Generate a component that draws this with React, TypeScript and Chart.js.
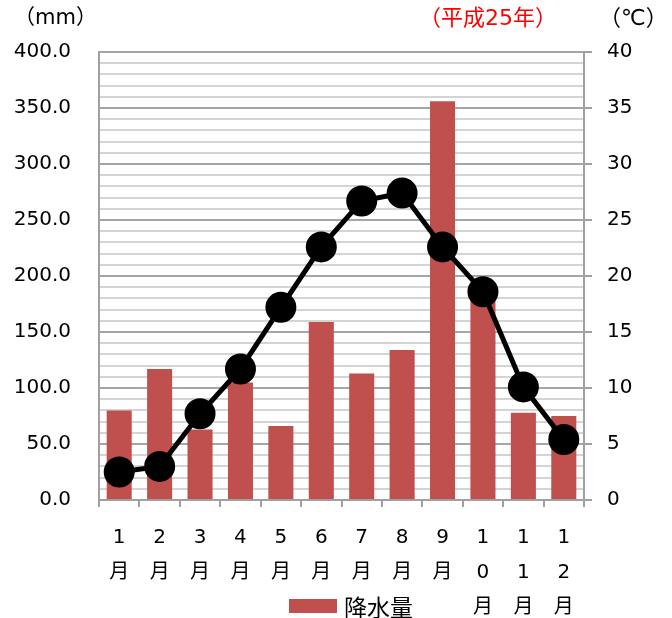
import React, { useEffect, useRef } from "react";
import { Chart, registerables } from "chart.js";

Chart.register(...registerables);

const months = ["1月", "2月", "3月", "4月", "5月", "6月", "7月", "8月", "9月", "10月", "11月", "12月"];
const precipitation = [80, 117, 63, 105, 66, 159, 113, 134, 356, 186, 78, 75];
const temperature = [2.5, 3.0, 7.7, 11.7, 17.2, 22.6, 26.7, 27.4, 22.6, 18.6, 10.1, 5.4];
const leftUnit = "（mm）";
const rightUnit = "（℃）";
const yearLabel = "（平成25年）";
const barLabel = "降水量";
const lineLabel = "気温";

const FONT = "'DejaVu Sans', 'Noto Sans CJK JP', sans-serif";
const CJK = "'Noto Sans CJK JP', sans-serif";
const BAR_COLOR = "#C0504D";
const AXIS_GRAY = "#a0a0a0";

const overlay = {
  id: "overlay",
  afterDraw(chart: any) {
    const ctx = chart.ctx;
    ctx.save();
    ctx.textBaseline = "middle";
    ctx.fillStyle = "#000";
    ctx.font = `21px ${FONT}`;
    ctx.textAlign = "left";
    ctx.fillText(leftUnit, 14, 19);
    ctx.font = `22px ${FONT}`;
    ctx.fillText(rightUnit, 599, 19);
    ctx.fillStyle = "#FF0000";
    ctx.fillText(yearLabel, 419, 19);
    // legend
    const ds = chart.data.datasets[1];
    ctx.fillStyle = ds.backgroundColor;
    ctx.fillRect(289, 599, 48, 14);
    ctx.fillStyle = "#000";
    ctx.font = `23px ${CJK}`;
    ctx.fillText(ds.label, 344, 607);
    ctx.restore();
  },
};

export default function App() {
  const ref = useRef<HTMLCanvasElement | null>(null);
  useEffect(() => {
    if (!ref.current) return;
    const chart = new Chart(ref.current, {
      type: "bar",
      data: {
        labels: months.map((m) => m.split("")),
        datasets: [
          {
            type: "line",
            label: lineLabel,
            data: temperature,
            yAxisID: "y1",
            borderColor: "#000",
            backgroundColor: "#000",
            borderWidth: 5,
            pointRadius: 13,
            pointBackgroundColor: "#000",
            pointBorderColor: "#000",
            tension: 0,
            order: 0,
          } as any,
          {
            type: "bar",
            label: barLabel,
            data: precipitation,
            yAxisID: "y",
            backgroundColor: BAR_COLOR,
            categoryPercentage: 1,
            barPercentage: 0.62,
            order: 1,
          },
        ],
      },
      options: {
        responsive: false,
        animation: false,
        layout: { padding: { top: 52, left: 0, right: 0, bottom: 0 } },
        plugins: { legend: { display: false }, tooltip: { enabled: false } },
        scales: {
          x: {
            ticks: {
              font: { size: 20, family: FONT, lineHeight: 1.75 },
              color: "#000",
              padding: 13,
              maxRotation: 0,
              autoSkip: false,
            },
            grid: { drawOnChartArea: false, tickLength: 7, color: AXIS_GRAY, lineWidth: 2, offset: true },
            border: { color: AXIS_GRAY, width: 2 },
            afterFit: (s: any) => {
              s.height = 118;
            },
          },
          y: {
            position: "left",
            min: 0,
            max: 400,
            ticks: {
              stepSize: 10,
              autoSkip: false,
              font: { size: 20, family: FONT },
              color: "#000",
              padding: 28,
              callback: (v: any) => (Number(v) % 50 === 0 ? Number(v).toFixed(1) : ""),
            },
            grid: {
              drawTicks: false,
              lineWidth: 2,
              color: (c: any) => (c.tick && c.tick.value % 50 === 0 ? "#a6a6a6" : "#d4d4d4"),
            },
            border: { color: AXIS_GRAY, width: 2 },
            afterFit: (s: any) => {
              s.width = 99;
            },
          },
          y1: {
            position: "right",
            min: 0,
            max: 40,
            ticks: {
              stepSize: 5,
              font: { size: 20, family: FONT },
              color: "#000",
              padding: 15,
            },
            grid: { drawOnChartArea: false, tickLength: 8, color: AXIS_GRAY, lineWidth: 2 },
            border: { color: AXIS_GRAY, width: 2 },
            afterFit: (s: any) => {
              s.width = 88;
            },
          },
        },
      },
      plugins: [overlay],
    });
    return () => chart.destroy();
  }, []);
  return (
    <div style={{ position: "absolute", left: 0, top: 0, width: 672, height: 618, background: "#fff" }}>
      <canvas ref={ref} width={672} height={618} style={{ display: "block" }} />
    </div>
  );
}
